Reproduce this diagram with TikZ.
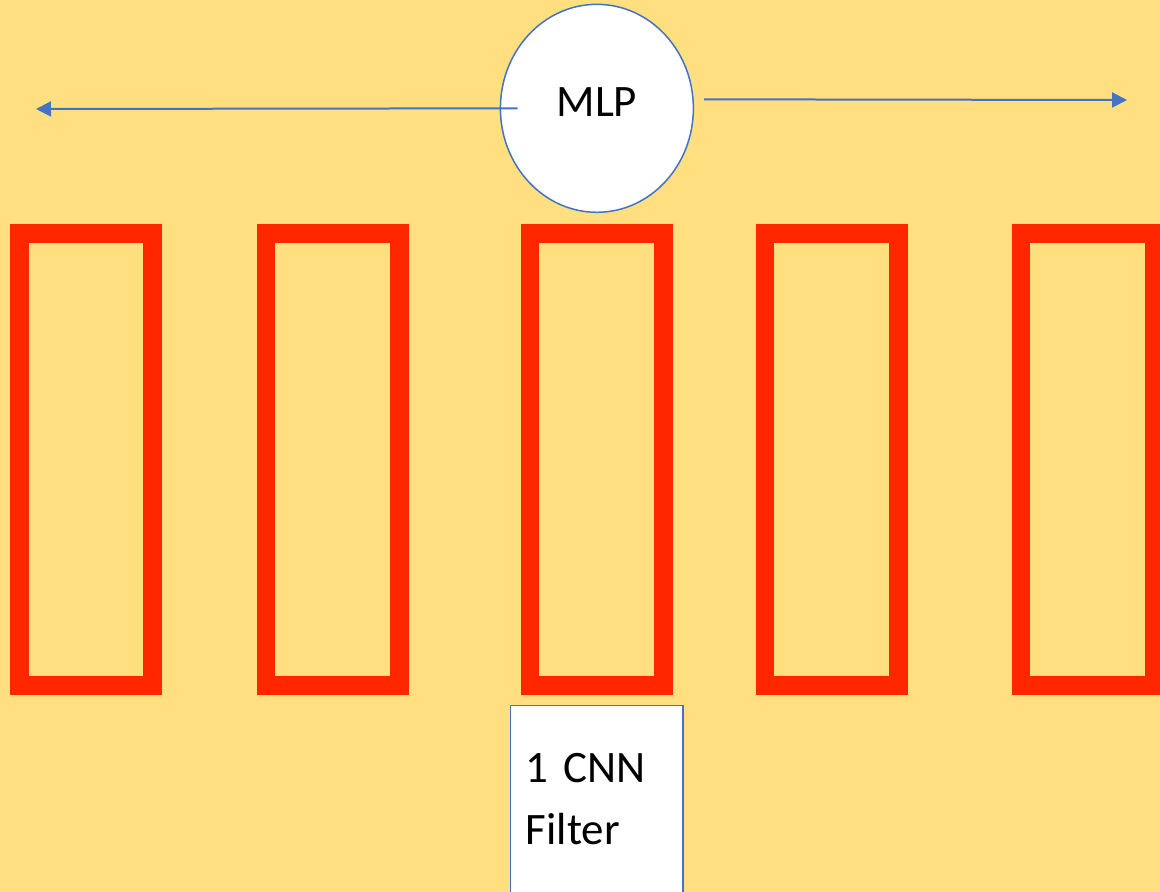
\documentclass[tikz,border=0pt]{standalone}
\usepackage{fontspec}
\setmainfont{Carlito}
\usetikzlibrary{positioning, arrows.meta, shapes.geometric}
\definecolor{bgyellow}{RGB}{255,223,128}
\definecolor{filterred}{RGB}{255,38,0}
\definecolor{lineblue}{RGB}{68,114,196}

\begin{document}
\begin{tikzpicture}[x=0.02cm, y=-0.02cm]
        \tikzstyle{fmap} = [rectangle, draw=filterred, line width=0.37cm, minimum width=2.67cm, minimum height=9.05cm]
        \tikzstyle{mlpnode} = [ellipse, draw=lineblue, line width=0.03cm, fill=white, minimum width=3.86cm, minimum height=4.16cm, font=\fontsize{25.6}{35.2}\selectfont]
        \tikzstyle{note} = [rectangle, draw=lineblue, line width=0.03cm, fill=white, minimum width=3.45cm, minimum height=3.735cm, text width=2.84cm, inner xsep=0.305cm, align=left, font=\fontsize{25.6}{35.2}\selectfont]
        \tikzstyle{arrow} = [draw=lineblue, line width=0.04cm, -{Triangle[length=0.3cm, width=0.3cm]}]

        \path [use as bounding box, clip] (0,0) rectangle (1160,892);
        \fill [bgyellow] (0,0) rectangle (1160,892);

        \node [fmap] (f1) at (86,459.5) {};
        \node [fmap, right=1.9cm of f1] (f2) {};
        \node [fmap, right=2.24cm of f2] (f3) {};
        \node [fmap, right=1.66cm of f3] (f4) {};
        \node [fmap, right=2.08cm of f4] (f5) {};

        \node [mlpnode, above=0.22cm of f3] (mlp) {\raisebox{0.26cm}{MLP}};
        \node [note, below=0.2cm of f3] (filt) {1 CNN\\Filter};

        \coordinate (lefttip) at (36,109);
        \coordinate (righttip) at (1127,100);
        \draw [arrow] ([xshift=0.36cm]mlp.west) -- (lefttip);
        \draw [arrow] ([shift={(0.2cm,0.18cm)}]mlp.east) -- (righttip);
    \end{tikzpicture}
\end{document}
